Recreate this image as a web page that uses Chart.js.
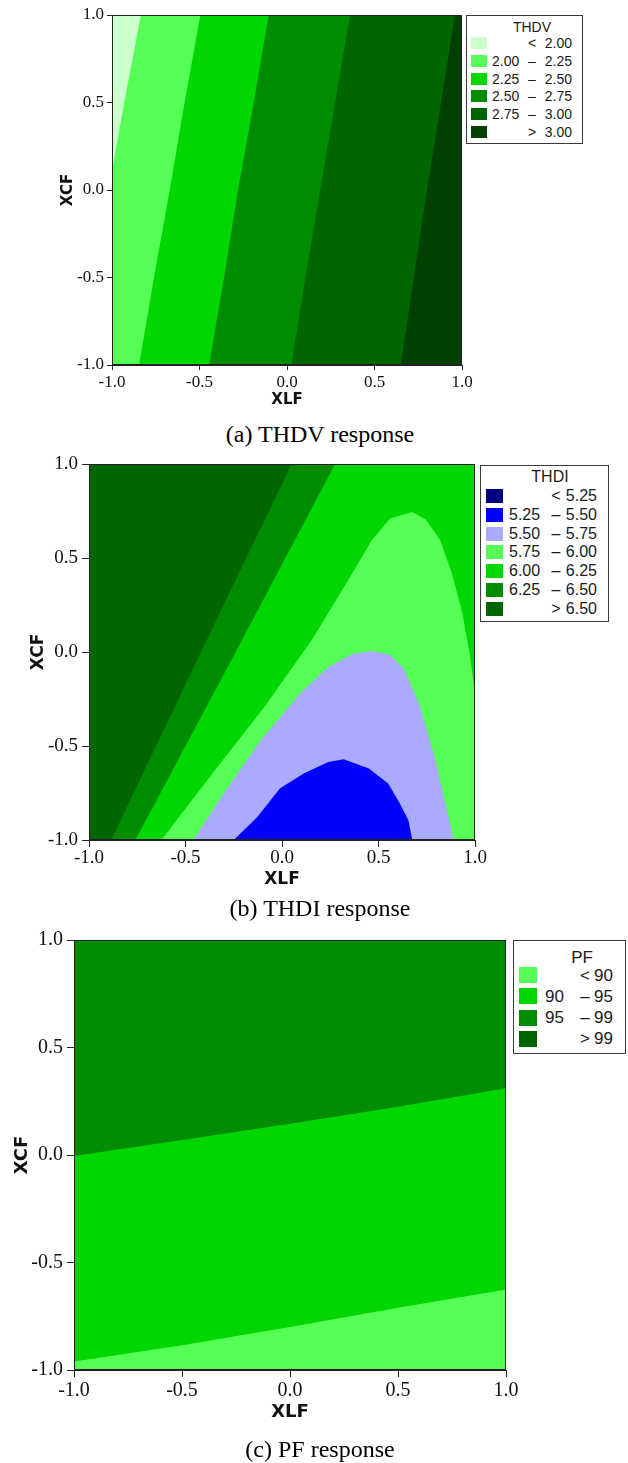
<!DOCTYPE html>
<html>
<head>
<meta charset="utf-8">
<script src="https://cdn.jsdelivr.net/npm/chart.js@4.4.1/dist/chart.umd.min.js"></script>
<style>
    html, body { margin: 0; padding: 0; background: #fff; }
    body { width: 628px; height: 1463px; position: relative; overflow: hidden; }
    .panel { position: absolute; left: 0; width: 628px; }
    .panel canvas { position: absolute; left: 0; top: 0; }
    .legend { position: absolute; border: 1px solid #3a3a3a; background: #fff; box-sizing: border-box;
              font-family: "Liberation Sans", Arial, sans-serif; color: #1a1a1a; }
    .legend span { position: absolute; white-space: nowrap; }
    .legend .sw { position: absolute; }
    .caption { position: absolute; left: 0; width: 640px; text-align: center; height: 28px; line-height: 28px;
               font-family: "Liberation Serif", "Times New Roman", serif; font-size: 24px; color: #000; }
</style>
</head>
<body>

<div class="panel" style="top:0px;height:420px"><canvas id="chartA" width="628" height="420"></canvas></div>
<div class="legend" id="legendA"></div>
<div class="caption" style="top:420px">(a) THDV response</div>

<div class="panel" style="top:445px;height:450px"><canvas id="chartB" width="628" height="450"></canvas></div>
<div class="legend" id="legendB"></div>
<div class="caption" style="top:894px">(b) THDI response</div>

<div class="panel" style="top:915px;height:515px"><canvas id="chartC" width="628" height="515"></canvas></div>
<div class="legend" id="legendC"></div>
<div class="caption" style="top:1435px">(c) PF response</div>

<script>
/*
============================================================
Contour data (coded factors, -1 .. 1)
------------------------------------------------------------
각 경계선은 [XLF, XCF] 점 목록
============================================================
*/

const AXIS_MIN = -1.0;
const AXIS_MAX = 1.0;
const AXIS_TICKS = [-1.0, -0.5, 0.0, 0.5, 1.0];
const X_TITLE = "XLF";
const Y_TITLE = "XCF";

// (a) THDV
const THDV_LEVELS = [2.00, 2.25, 2.50, 2.75, 3.00];
const THDV_B200 = [[-1.00, 0.11], [-0.93, 0.50], [-0.835, 1.00]];
const THDV_B225 = [[-0.845, -1.00], [-0.76, -0.50], [-0.67, 0.00], [-0.585, 0.50], [-0.495, 1.00]];
const THDV_B250 = [[-0.445, -1.00], [-0.36, -0.50], [-0.28, 0.00], [-0.19, 0.50], [-0.105, 1.00]];
const THDV_B275 = [[0.025, -1.00], [0.105, -0.50], [0.19, 0.00], [0.275, 0.50], [0.36, 1.00]];
const THDV_B300 = [[0.65, -1.00], [0.725, -0.50], [0.80, 0.00], [0.88, 0.50], [0.96, 1.00]];

// (b) THDI
const THDI_LEVELS = [5.25, 5.50, 5.75, 6.00, 6.25, 6.50];
const THDI_B550 = [[-0.25, -1.00], [-0.13, -0.88], [-0.01, -0.725], [0.115, -0.645], [0.24, -0.585],
                   [0.32, -0.57], [0.45, -0.62], [0.55, -0.70], [0.61, -0.805], [0.655, -0.895], [0.675, -1.00]];
const THDI_B575 = [[-0.46, -1.00], [-0.30, -0.75], [-0.11, -0.47], [0.095, -0.22], [0.24, -0.08],
                   [0.365, -0.01], [0.465, 0.005], [0.56, -0.015], [0.635, -0.095], [0.715, -0.29],
                   [0.79, -0.555], [0.85, -0.82], [0.89, -1.00]];
const THDI_B600 = [[-0.625, -1.00], [-0.36, -0.645], [-0.09, -0.29], [0.155, 0.065], [0.345, 0.385],
                   [0.465, 0.595], [0.56, 0.71], [0.675, 0.745], [0.745, 0.705], [0.82, 0.595],
                   [0.88, 0.42], [0.935, 0.205], [0.975, -0.025], [1.00, -0.22]];
const THDI_B625 = [[-0.76, -1.00], [-0.24, 0.00], [0.275, 1.00]];
const THDI_B650 = [[-0.885, -1.00], [-0.42, 0.00], [0.05, 1.00]];

// (c) PF
const PF_LEVELS = [90, 95, 99];
const PF_B90 = [[-1.00, -0.96], [-0.50, -0.885], [0.00, -0.80], [0.50, -0.71], [1.00, -0.625]];
const PF_B95 = [[-1.00, -0.005], [-0.50, 0.07], [0.00, 0.145], [0.50, 0.225], [1.00, 0.31]];

/*
------------------------------------------------------------
색상
------------------------------------------------------------
*/

const THDV_COLORS = ["#ccffcc", "#55ff55", "#00d600", "#008c00", "#006600", "#004000"];
const THDI_COLORS = ["#000080", "#0000ff", "#aaaaff", "#55ff55", "#00d600", "#008c00", "#006600"];
const PF_COLORS = ["#55ff55", "#00d600", "#008c00", "#006600"];

/*
------------------------------------------------------------
영역 다각형 만들기
------------------------------------------------------------
*/

function closeRegion(boundary, side) {

    const pts = boundary.map(([x, y]) => ({ x, y }));

    if (side === "left") {
        pts.push({ x: AXIS_MIN, y: AXIS_MAX }, { x: AXIS_MIN, y: AXIS_MIN });
    } else if (side === "right") {
        pts.push({ x: AXIS_MAX, y: AXIS_MAX }, { x: AXIS_MAX, y: AXIS_MIN });
    } else if (side === "below") {
        pts.push({ x: AXIS_MAX, y: AXIS_MIN }, { x: AXIS_MIN, y: AXIS_MIN });
    } else if (side === "bottomRight") {
        pts.push({ x: AXIS_MAX, y: AXIS_MIN });
    }

    return pts;

}

function fullArea() {

    return [
        { x: AXIS_MIN, y: AXIS_MAX },
        { x: AXIS_MAX, y: AXIS_MAX },
        { x: AXIS_MAX, y: AXIS_MIN },
        { x: AXIS_MIN, y: AXIS_MIN }
    ];

}

const framePlugin = {

    id: "frame",

    afterDatasetsDraw(chart) {

        const { ctx, chartArea: a } = chart;

        ctx.save();
        ctx.strokeStyle = "#222";
        ctx.lineWidth = 1;
        ctx.strokeRect(a.left + 0.5, a.top + 0.5, a.width - 1, a.height - 1);
        ctx.restore();

    }

};

/*
------------------------------------------------------------
그래프 생성
------------------------------------------------------------
*/

function makePanel(canvasId, p, colors, regions) {

    const ctx = document.getElementById(canvasId).getContext("2d");

    const tickFont = { family: "'Liberation Serif', 'Times New Roman', serif", size: p.tickFont };
    const titleFont = { family: "'DejaVu Sans', Verdana, sans-serif", size: p.titleFont, weight: "bold" };

    const axisBase = {

        type: "linear",
        min: AXIS_MIN,
        max: AXIS_MAX,

        afterBuildTicks: (scale) => {
            scale.ticks = AXIS_TICKS.map(v => ({ value: v }));
        },

        grid: { drawOnChartArea: false, drawTicks: true, tickLength: p.tickLen, color: "#222" },

        border: { display: true, color: "#222" }

    };

    return new Chart(ctx, {

        type: "line",

        data: {

            datasets: regions.map((r, i) => ({
                data: r.points,
                backgroundColor: colors[r.band],
                borderWidth: 0,
                pointRadius: 0,
                fill: "shape",
                tension: 0,
                order: regions.length - i
            }))

        },

        options: {

            responsive: false,
            animation: false,
            events: [],

            layout: {
                padding: { top: p.plotTop - p.top, right: 628 - p.right, left: 0, bottom: 0 }
            },

            plugins: {
                legend: { display: false },
                tooltip: { enabled: false }
            },

            scales: {

                x: {
                    ...axisBase,
                    position: "bottom",
                    afterFit: (scale) => { scale.height = p.top + p.height - p.plotBottom; },
                    ticks: { font: tickFont, color: "#111", padding: p.xTickPad, maxRotation: 0,
                             autoSkip: false, callback: v => v.toFixed(1) },
                    title: { display: true, text: X_TITLE, font: titleFont, color: "#111",
                             padding: { top: 0, bottom: p.xTitlePad } }
                },

                y: {
                    ...axisBase,
                    position: "left",
                    afterFit: (scale) => { scale.width = p.left; },
                    ticks: { font: tickFont, color: "#111", padding: p.yTickPad,
                             autoSkip: false, callback: v => v.toFixed(1) },
                    title: { display: true, text: Y_TITLE, font: titleFont, color: "#111",
                             padding: { top: p.yTitlePad, bottom: 0 } }
                }

            }

        },

        plugins: [framePlugin]

    });

}

/*
------------------------------------------------------------
범례 (HTML)
------------------------------------------------------------
*/

function buildLegend(id, title, levels, dec, colors, g) {

    const box = document.getElementById(id);

    Object.assign(box.style, {
        left: g.left + "px", top: g.top + "px",
        width: g.width + "px", height: g.height + "px",
        fontSize: g.font + "px"
    });

    const lh = g.font + 4;

    const put = (text, css) => {
        const s = document.createElement("span");
        s.textContent = text;
        Object.assign(s.style, { lineHeight: lh + "px", height: lh + "px" }, css);
        box.appendChild(s);
    };

    put(title, { left: (g.titleX - 40) + "px", width: "80px", textAlign: "center", top: (g.titleY - lh / 2) + "px" });

    const n = levels.length + 1;

    for (let i = 0; i < n; i++) {

        const cy = g.rowY + i * g.rowStep;

        const sw = document.createElement("div");
        sw.className = "sw";
        Object.assign(sw.style, {
            left: g.swX + "px", top: (cy - g.swH / 2) + "px",
            width: g.swW + "px", height: g.swH + "px", background: colors[i]
        });
        box.appendChild(sw);

        let low = "", sym, high;

        if (i === 0) {
            sym = "<"; high = levels[0];
        } else if (i === n - 1) {
            sym = ">"; high = levels[n - 2];
        } else {
            low = levels[i - 1].toFixed(dec); sym = "\u2013"; high = levels[i];
        }

        const top = (cy - lh / 2) + "px";

        if (low) put(low, { left: g.lowX + "px", top });
        put(sym, { left: (g.symX - 10) + "px", width: "20px", textAlign: "center", top });
        put(high.toFixed(dec), { right: (g.width - 2 - g.highR) + "px", top });

    }

}

/*
------------------------------------------------------------
배치
------------------------------------------------------------
*/

const PANEL_A = { top: 0, height: 420, left: 112, right: 462, plotTop: 15, plotBottom: 365,
                  tickFont: 17, titleFont: 15, tickLen: 5, xTickPad: 2, xTitlePad: 11, yTickPad: 3, yTitlePad: 59 };
const PANEL_B = { top: 445, height: 450, left: 89, right: 475, plotTop: 464, plotBottom: 840,
                  tickFont: 19, titleFont: 17, tickLen: 7, xTickPad: 0, xTitlePad: 5, yTickPad: 4, yTitlePad: 28 };
const PANEL_C = { top: 915, height: 515, left: 74, right: 506, plotTop: 940, plotBottom: 1370,
                  tickFont: 20, titleFont: 18, tickLen: 7, xTickPad: 2, xTitlePad: 7, yTickPad: 4, yTitlePad: 12 };

makePanel("chartA", PANEL_A, THDV_COLORS, [
    { band: 5, points: fullArea() },
    { band: 4, points: closeRegion(THDV_B300, "left") },
    { band: 3, points: closeRegion(THDV_B275, "left") },
    { band: 2, points: closeRegion(THDV_B250, "left") },
    { band: 1, points: closeRegion(THDV_B225, "left") },
    { band: 0, points: closeRegion(THDV_B200, "left") }
]);

makePanel("chartB", PANEL_B, THDI_COLORS, [
    { band: 6, points: fullArea() },
    { band: 5, points: closeRegion(THDI_B650, "right") },
    { band: 4, points: closeRegion(THDI_B625, "right") },
    { band: 3, points: closeRegion(THDI_B600, "bottomRight") },
    { band: 2, points: closeRegion(THDI_B575, "none") },
    { band: 1, points: closeRegion(THDI_B550, "none") }
]);

makePanel("chartC", PANEL_C, PF_COLORS, [
    { band: 2, points: fullArea() },
    { band: 1, points: closeRegion(PF_B95, "below") },
    { band: 0, points: closeRegion(PF_B90, "below") }
]);

buildLegend("legendA", "THDV", THDV_LEVELS, 2, THDV_COLORS,
    { left: 466, top: 15, width: 117, height: 129, font: 14, titleX: 65, titleY: 11,
      rowY: 27, rowStep: 17.75, swX: 4, swW: 16, swH: 12, lowX: 25, symX: 65, highR: 105 });

buildLegend("legendB", "THDI", THDI_LEVELS, 2, THDI_COLORS,
    { left: 480, top: 465, width: 129, height: 157, font: 16, titleX: 69, titleY: 11,
      rowY: 30, rowStep: 18.8, swX: 5, swW: 17, swH: 14, lowX: 28, symX: 75, highR: 116 });

buildLegend("legendC", "PF", PF_LEVELS, 0, PF_COLORS,
    { left: 513, top: 940, width: 113, height: 114, font: 17, titleX: 68, titleY: 16,
      rowY: 34, rowStep: 21.3, swX: 5, swW: 18, swH: 16, lowX: 31, symX: 71, highR: 99 });
</script>
</body>
</html>
